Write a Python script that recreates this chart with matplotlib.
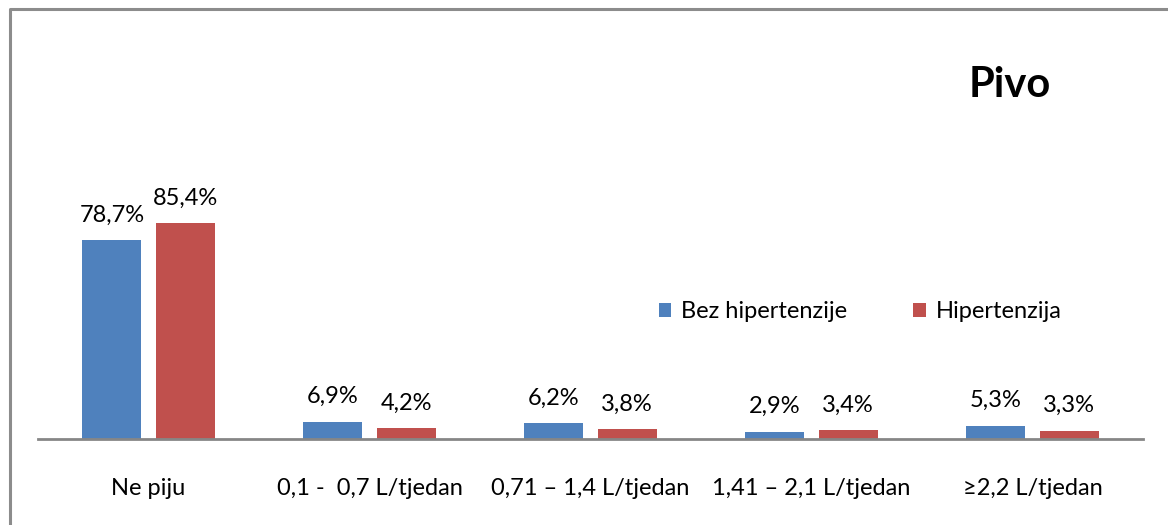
import numpy as np
import matplotlib
matplotlib.use("Agg")
import matplotlib.pyplot as plt
from matplotlib.lines import Line2D

plt.rcParams["font.family"] = ["Lato", "DejaVu Sans"]

# podaci
kategorije = ["Ne piju", "0,1 -  0,7 L/tjedan", "0,71 – 1,4 L/tjedan",
              "1,41 – 2,1 L/tjedan", "≥2,2 L/tjedan"]
bez_hipertenzije = [78.7, 6.9, 6.2, 2.9, 5.3]
hipertenzija = [85.4, 4.2, 3.8, 3.4, 3.3]
serije = ["Bez hipertenzije", "Hipertenzija"]
boje = ["#4F81BD", "#C0504D"]

W, H = 1168, 525
fig = plt.figure(figsize=(W / 100, H / 100), dpi=100)

# okvir grafikona (vidljiv samo gornji i lijevi rub)
fig.lines.append(Line2D([9.5 / W, 9.5 / W, 1], [0, (H - 9) / H, (H - 9) / H],
                        transform=fig.transFigure, color="#8c8c8c",
                        linewidth=2.2))

ax = fig.add_axes([38 / W, (H - 439) / H, 1105 / W, 253 / H])

x = np.arange(len(kategorije))
sirina = 0.267
pomak = 0.166
fs = 17

for vrijednosti, naziv, boja, smjer in zip([bez_hipertenzije, hipertenzija],
                                          serije, boje, [-1, 1]):
    stupci = ax.bar(x + smjer * pomak, vrijednosti, sirina, color=boja,
                    label=naziv, zorder=2)
    for s, v in zip(stupci, vrijednosti):
        ax.annotate(f"{v:.1f}%".replace(".", ","),
                    (s.get_x() + s.get_width() / 2, v),
                    xytext=(0, 18), textcoords="offset points",
                    ha="center", va="center", fontsize=fs)

ax.set_xlim(-0.5, len(kategorije) - 0.5)
ax.set_ylim(0, 100)
ax.set_xticks(x)
ax.set_xticklabels(kategorije, fontsize=fs)
ax.tick_params(axis="x", length=0, pad=28)
ax.set_yticks([])
for strana in ["top", "right", "left"]:
    ax.spines[strana].set_visible(False)
ax.spines["bottom"].set_color("#868686")
ax.spines["bottom"].set_linewidth(2)
ax.spines["bottom"].set_zorder(3)

ax.legend(loc="center", bbox_to_anchor=(860 / W, (H - 312) / H),
          bbox_transform=fig.transFigure, ncol=2, frameon=False,
          fontsize=fs, handlelength=0.55, handleheight=0.55,
          handletextpad=0.4, columnspacing=2.8)

fig.text(1010 / W, (H - 85) / H, "Pivo", fontsize=30, fontweight="bold",
         ha="center", va="center")

fig.savefig("out.png", dpi=100)
